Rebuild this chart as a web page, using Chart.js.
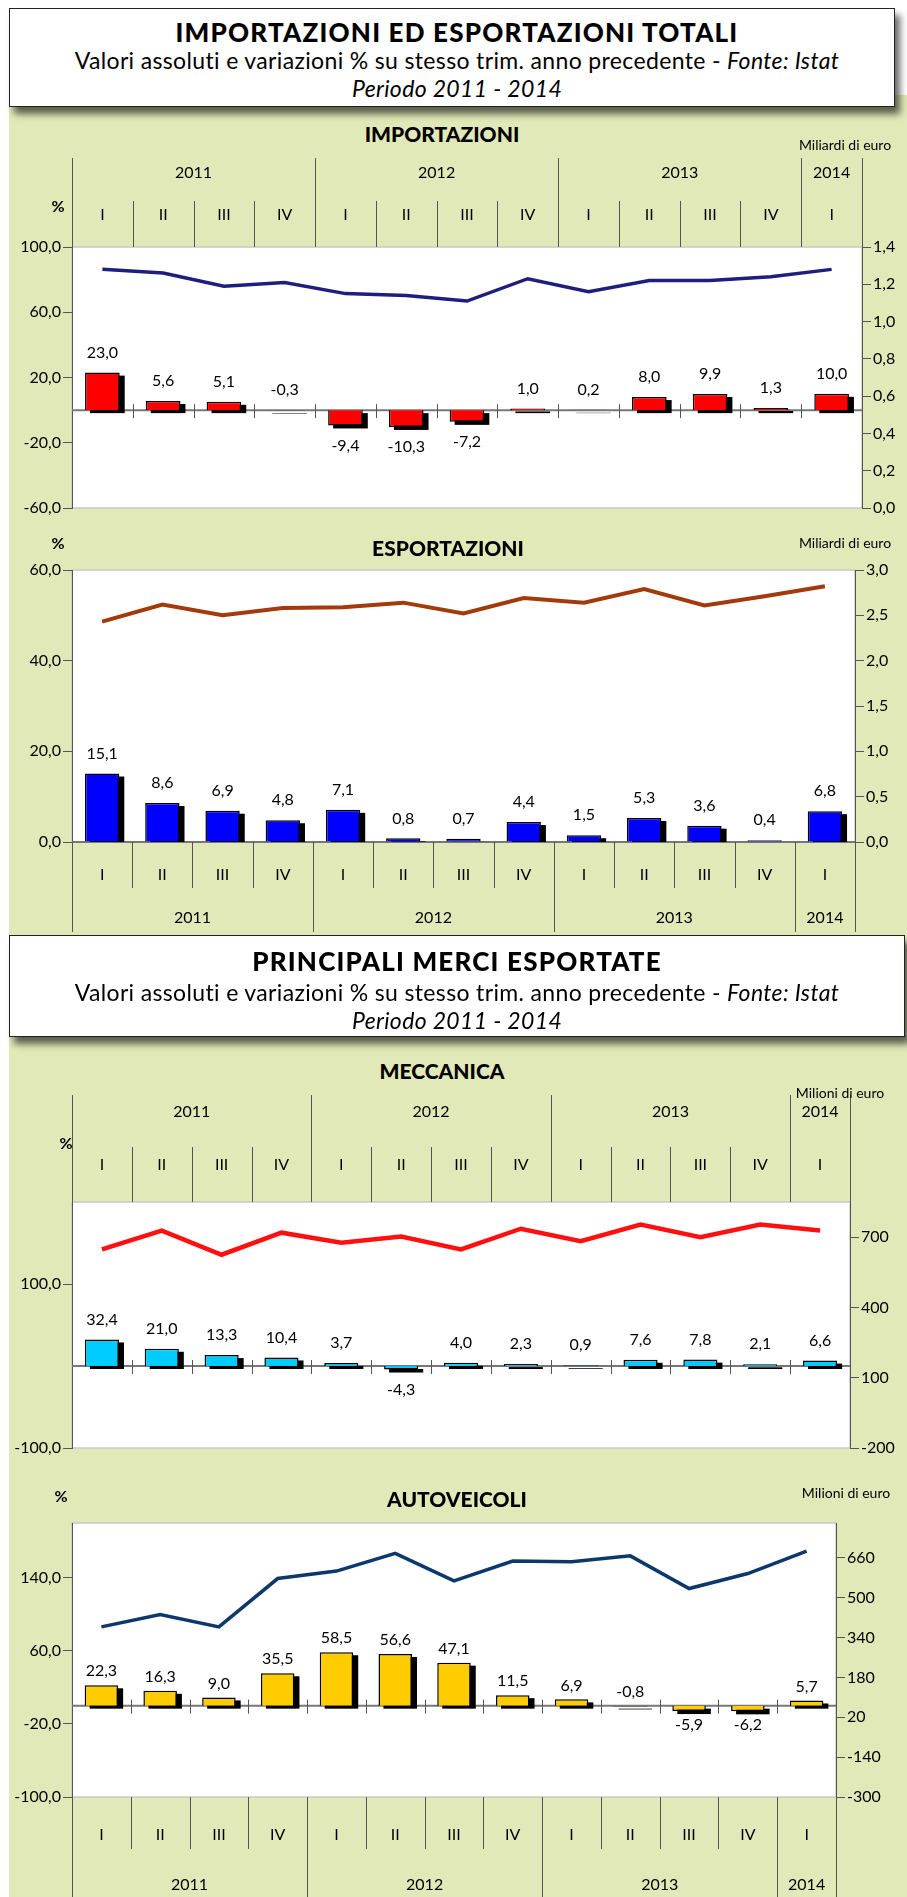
<!DOCTYPE html>
<html lang="it">
<head>
<meta charset="utf-8">
<title>Importazioni ed esportazioni totali</title>
<script src="https://cdn.jsdelivr.net/npm/chart.js@4.4.1/dist/chart.umd.min.js"></script>
<style>
  body { margin: 0; width: 907px; height: 1897px; position: relative; background: #fff; font-family: Lato, "Open Sans", sans-serif; overflow: hidden; }
  .panel { position: absolute; left: 9px; top: 95px; width: 898px; height: 1802px; background: #e2e9b8; }
  .header { position: absolute; left: 9px; background: #fff; border: 1.5px solid #222; box-sizing: border-box; box-shadow: 5px 7px 7px rgba(0,0,0,0.6); }
  .txt { position: absolute; transform: translate(-50%, -50%); white-space: nowrap; color: #000; }
  .big { font-weight: 900; font-size: 26px; letter-spacing: 1.2px; }
  .sub { font-size: 23px; letter-spacing: 0.35px; }
  .ctitle { font-weight: 900; font-size: 21px; }
  .unit { font-size: 14px; }
  .pct { font-size: 16px; font-weight: bold; }
  canvas { position: absolute; left: 0; }
</style>
</head>
<body>
<div class="panel"></div>

<canvas id="impChart" width="907" height="375" style="top:150px"></canvas>
<canvas id="expChart" width="907" height="410" style="top:525px"></canvas>
<canvas id="mecChart" width="907" height="380" style="top:1085px"></canvas>
<canvas id="autChart" width="907" height="392" style="top:1505px"></canvas>

<div class="header" style="top:8px; width:886px; height:99px;"></div>
<div class="txt big" style="left:457px; top:32px;">IMPORTAZIONI ED ESPORTAZIONI TOTALI</div>
<div class="txt sub" style="left:457px; top:60px;">Valori assoluti e variazioni % su stesso trim. anno precedente - <i>Fonte: Istat</i></div>
<div class="txt sub" style="left:457px; top:88px;"><i>Periodo 2011 - 2014</i></div>

<div class="header" style="top:935px; width:896px; height:102px;"></div>
<div class="txt big" style="left:457px; top:961px;">PRINCIPALI MERCI ESPORTATE</div>
<div class="txt sub" style="left:457px; top:992px;">Valori assoluti e variazioni % su stesso trim. anno precedente - <i>Fonte: Istat</i></div>
<div class="txt sub" style="left:457px; top:1020px;"><i>Periodo 2011 - 2014</i></div>

<div class="txt ctitle" style="left:442px; top:133px;">IMPORTAZIONI</div>
<div class="txt unit" style="left:845px; top:144px;">Miliardi di euro</div>
<div class="txt pct" style="left:58px; top:205px;">%</div>

<div class="txt ctitle" style="left:448px; top:547px;">ESPORTAZIONI</div>
<div class="txt unit" style="left:845px; top:542px;">Miliardi di euro</div>
<div class="txt pct" style="left:58px; top:542px;">%</div>

<div class="txt ctitle" style="left:442px; top:1070px;">MECCANICA</div>
<div class="txt unit" style="left:840px; top:1092px;">Milioni di euro</div>
<div class="txt pct" style="left:66px; top:1142px;">%</div>

<div class="txt ctitle" style="left:457px; top:1498px;">AUTOVEICOLI</div>
<div class="txt unit" style="left:846px; top:1492px;">Milioni di euro</div>
<div class="txt pct" style="left:61px; top:1495px;">%</div>

<script>
// categories
const quarters = ['I', 'II', 'III', 'IV', 'I', 'II', 'III', 'IV', 'I', 'II', 'III', 'IV', 'I'];
const categoryYears = ['2011', '2011', '2011', '2011', '2012', '2012', '2012', '2012', '2013', '2013', '2013', '2013', '2014'];

// importazioni: variazione % e valore (miliardi di euro)
const importPct = [23.0, 5.6, 5.1, -0.3, -9.4, -10.3, -7.2, 1.0, 0.2, 8.0, 9.9, 1.3, 10.0];
const importValue = [1.28, 1.26, 1.19, 1.21, 1.15, 1.14, 1.11, 1.23, 1.16, 1.22, 1.22, 1.24, 1.28];

// esportazioni
const exportPct = [15.1, 8.6, 6.9, 4.8, 7.1, 0.8, 0.7, 4.4, 1.5, 5.3, 3.6, 0.4, 6.8];
const exportValue = [2.43, 2.62, 2.50, 2.58, 2.59, 2.64, 2.52, 2.69, 2.64, 2.79, 2.61, 2.71, 2.82];

// meccanica (milioni di euro)
const meccanicaPct = [32.4, 21.0, 13.3, 10.4, 3.7, -4.3, 4.0, 2.3, 0.9, 7.6, 7.8, 2.1, 6.6];
const meccanicaValue = [648, 728, 625, 719, 676, 703, 648, 736, 683, 754, 700, 754, 728];

// autoveicoli (milioni di euro)
const autoPct = [22.3, 16.3, 9.0, 35.5, 58.5, 56.6, 47.1, 11.5, 6.9, -0.8, -5.9, -6.2, 5.7];
const autoValue = [383, 433, 383, 577, 607, 678, 568, 647, 644, 668, 537, 597, 687];

// tick labels
const importPctTicks = [-60, -20, 20, 60, 100];
const importValueTicks = [0, 0.2, 0.4, 0.6, 0.8, 1.0, 1.2, 1.4];
const exportPctTicks = [0, 20, 40, 60];
const exportValueTicks = [0, 0.5, 1.0, 1.5, 2.0, 2.5, 3.0];
const meccanicaPctTicks = [-100, 100];
const meccanicaValueTicks = [-200, 100, 400, 700];
const autoPctTicks = [-100, -20, 60, 140];
const autoValueTicks = [-300, -140, 20, 180, 340, 500, 660];

const fmt = (v, d) => v.toFixed(d).replace('.', ',');
const FONT = 'Lato, "Open Sans", sans-serif';

// white plot area, zero line and the small ticks on it
const plotArea = {
  id: 'plotArea',
  beforeDraw(chart) {
    const { ctx, chartArea: a } = chart;
    ctx.save();
    ctx.fillStyle = '#fff';
    ctx.fillRect(a.left, a.top, a.width, a.height);
    ctx.strokeStyle = '#c8c8c8';
    ctx.lineWidth = 1.5;
    ctx.strokeRect(a.left, a.top, a.width, a.height);
    ctx.restore();
  },
  beforeDatasetsDraw(chart) {
    const { ctx, chartArea: a, scales } = chart;
    const y0 = scales.y.getPixelForValue(0);
    const n = chart.data.labels.length;
    const w = a.width / n;
    ctx.save();
    ctx.strokeStyle = '#777';
    ctx.lineWidth = 2;
    ctx.beginPath();
    ctx.moveTo(a.left, y0);
    ctx.lineTo(a.right, y0);
    ctx.stroke();
    if (y0 < a.bottom - 2) {
      ctx.strokeStyle = '#555';
      ctx.lineWidth = 1;
      for (let i = 1; i < n; i++) {
        const xx = Math.round(a.left + i * w) + 0.5;
        ctx.beginPath();
        ctx.moveTo(xx, y0 - 6);
        ctx.lineTo(xx, y0 + 8);
        ctx.stroke();
      }
    }
    ctx.restore();
  }
};

// black offset shadow behind each bar, taken from the bar elements
const barShadow = {
  id: 'barShadow',
  beforeDatasetDraw(chart, args) {
    if (args.meta.type !== 'bar') return;
    const { ctx, chartArea: a } = chart;
    ctx.save();
    ctx.beginPath();
    ctx.rect(a.left, a.top, a.width, a.height);
    ctx.clip();
    ctx.fillStyle = '#000';
    args.meta.data.forEach(el => {
      const { x, y, base, width } = el.getProps(['x', 'y', 'base', 'width'], true);
      const top = Math.min(y, base);
      const h = Math.abs(base - y);
      ctx.fillRect(x - width / 2 + 5, top + 3, width, h);
    });
    ctx.restore();
  }
};

// value labels on the bars
const barLabels = {
  id: 'barLabels',
  afterDatasetsDraw(chart, args, opts) {
    const ctx = chart.ctx;
    const meta = chart.getDatasetMeta(0);
    const values = chart.data.datasets[0].data;
    const gap = opts.gap || 20;
    ctx.save();
    ctx.fillStyle = '#000';
    ctx.font = '16px ' + FONT;
    ctx.textAlign = 'center';
    ctx.textBaseline = 'middle';
    meta.data.forEach((el, i) => {
      const v = values[i];
      const y = v > -1 ? Math.min(el.y, el.base) - gap : Math.max(el.y, el.base) + gap;
      ctx.fillText(fmt(v, 1), el.x, y);
    });
    ctx.restore();
  }
};

// quarter / year band with dividers
const categoryBand = {
  id: 'categoryBand',
  afterDraw(chart, args, opts) {
    const { ctx, chartArea: a, scales: { x } } = chart;
    const n = chart.data.labels.length;
    const w = a.width / n;
    const top = opts.side === 'top';
    const sign = top ? -1 : 1;
    const base = top ? a.top : a.bottom;
    ctx.save();
    ctx.strokeStyle = '#555';
    ctx.lineWidth = 1;
    for (let i = 0; i <= n; i++) {
      const isYear = i === 0 || i === n || categoryYears[i] !== categoryYears[i - 1];
      const len = isYear ? opts.outer : opts.quarterDiv;
      const xx = Math.round(a.left + i * w) + 0.5;
      ctx.beginPath();
      ctx.moveTo(xx, base);
      ctx.lineTo(xx, base + sign * len);
      ctx.stroke();
    }
    ctx.fillStyle = '#000';
    ctx.font = '16px ' + FONT;
    ctx.textAlign = 'center';
    ctx.textBaseline = 'middle';
    quarters.forEach((q, i) => ctx.fillText(q, x.getPixelForValue(i), base + sign * opts.quarterY));
    let start = 0;
    for (let i = 1; i <= n; i++) {
      if (i === n || categoryYears[i] !== categoryYears[start]) {
        const cx = (x.getPixelForValue(start) + x.getPixelForValue(i - 1)) / 2;
        ctx.fillText(categoryYears[start], cx, base + sign * opts.yearY);
        start = i;
      }
    }
    ctx.restore();
  }
};

function makeChart(id, c) {
  const ctx = document.getElementById(id).getContext('2d');
  return new Chart(ctx, {
    type: 'bar',
    data: {
      labels: quarters,
      datasets: [{
        type: 'bar',
        data: c.pct,
        yAxisID: 'y',
        backgroundColor: c.barColor,
        borderColor: '#000',
        borderWidth: 1.5,
        barPercentage: 0.57,
        categoryPercentage: 1,
        order: 2
      }, {
        type: 'line',
        data: c.value,
        yAxisID: 'y1',
        borderColor: c.lineColor,
        borderWidth: c.lineWidth,
        pointRadius: 0,
        tension: 0,
        fill: false,
        order: 1
      }]
    },
    options: {
      responsive: false,
      animation: false,
      devicePixelRatio: 1,
      layout: { padding: { top: c.padTop, bottom: c.padBottom, left: 0, right: 0 } },
      plugins: {
        legend: { display: false },
        tooltip: { enabled: false },
        barLabels: { gap: c.labelGap },
        categoryBand: c.band
      },
      scales: {
        x: { display: false, offset: true },
        y: {
          position: 'left',
          min: c.pctRange[0],
          max: c.pctRange[1],
          afterBuildTicks: s => { s.ticks = c.pctTicks.map(v => ({ value: v })); },
          afterFit: s => { s.width = c.leftWidth; },
          grid: { drawOnChartArea: false, color: '#555', tickLength: 9 },
          border: { color: '#555', width: 1 },
          ticks: { callback: v => fmt(v, 1), color: '#000', font: { family: FONT, size: 16 }, padding: 2 }
        },
        y1: {
          position: 'right',
          min: c.valueRange[0],
          max: c.valueRange[1],
          afterBuildTicks: s => { s.ticks = c.valueTicks.map(v => ({ value: v })); },
          afterFit: s => { s.width = c.rightWidth; },
          grid: { drawOnChartArea: false, color: '#555', tickLength: 9 },
          border: { color: '#555', width: 1 },
          ticks: { callback: v => fmt(v, c.valueDecimals), color: '#000', font: { family: FONT, size: 16 }, padding: 2 }
        }
      }
    },
    plugins: [plotArea, barShadow, barLabels, categoryBand]
  });
}

makeChart('impChart', {
  pct: importPct, value: importValue,
  pctTicks: importPctTicks, valueTicks: importValueTicks,
  pctRange: [-60, 100], valueRange: [0, 1.4], valueDecimals: 1,
  barColor: '#ff0000', lineColor: '#1e1e7e', lineWidth: 3.5,
  padTop: 97, padBottom: 17, leftWidth: 72, rightWidth: 45, labelGap: 20,
  band: { side: 'top', outer: 89, quarterDiv: 46, yearY: 74, quarterY: 32 }
});

makeChart('expChart', {
  pct: exportPct, value: exportValue,
  pctTicks: exportPctTicks, valueTicks: exportValueTicks,
  pctRange: [0, 60], valueRange: [0, 3], valueDecimals: 1,
  barColor: '#0000ff', lineColor: '#a33a0c', lineWidth: 4,
  padTop: 45, padBottom: 93, leftWidth: 72, rightWidth: 52, labelGap: 20,
  band: { side: 'bottom', outer: 90, quarterDiv: 46, yearY: 76, quarterY: 33 }
});

makeChart('mecChart', {
  pct: meccanicaPct, value: meccanicaValue,
  pctTicks: meccanicaPctTicks, valueTicks: meccanicaValueTicks,
  pctRange: [-100, 200], valueRange: [-200, 850], valueDecimals: 0,
  barColor: '#00ccff', lineColor: '#ff1010', lineWidth: 4.5,
  padTop: 117, padBottom: 17, leftWidth: 72, rightWidth: 57, labelGap: 20,
  band: { side: 'top', outer: 107, quarterDiv: 55, yearY: 90, quarterY: 37 }
});

makeChart('autChart', {
  pct: autoPct, value: autoValue,
  pctTicks: autoPctTicks, valueTicks: autoValueTicks,
  pctRange: [-100, 200], valueRange: [-300, 800], valueDecimals: 0,
  barColor: '#ffcc00', lineColor: '#0c386c', lineWidth: 3.5,
  padTop: 18, padBottom: 100, leftWidth: 72, rightWidth: 71, labelGap: 14,
  band: { side: 'bottom', outer: 100, quarterDiv: 52, yearY: 88, quarterY: 38 }
});
</script>
</body>
</html>
